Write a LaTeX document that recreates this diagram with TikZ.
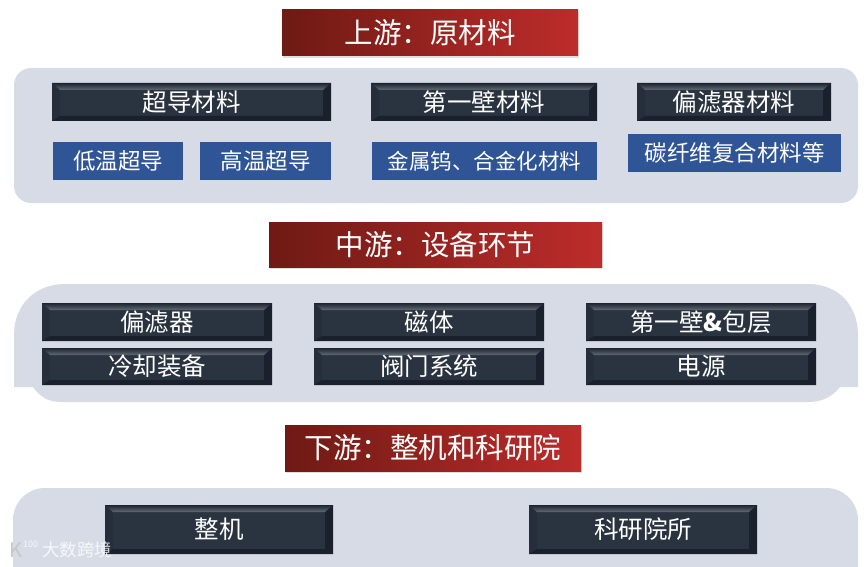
\documentclass[tikz,border=0pt]{standalone}
\usepackage{fontspec}
\setmainfont{Noto Sans CJK SC}
\usetikzlibrary{shadows,calc}
\definecolor{panelc}{HTML}{D6DBE6}
\definecolor{darkc}{HTML}{2A3340}
\definecolor{bevtop}{HTML}{626A74}
\definecolor{bevedge}{HTML}{1C2430}
\definecolor{bevbot}{HTML}{1A212C}
\definecolor{bevside}{HTML}{1A212C}
\definecolor{bluec}{HTML}{2F5597}
\definecolor{redl}{HTML}{6E1A14}
\definecolor{redr}{HTML}{BD2C2B}
\tikzset{
  panel/.style={fill=panelc,draw=none},
  darkbox/.style={inner sep=0pt,text=white,font=\fontsize{24.5}{26}\selectfont,
    path picture={
      \fill[darkc] (path picture bounding box.south west) rectangle (path picture bounding box.north east);
      \fill[bevside] (path picture bounding box.north east) -- (path picture bounding box.south east)
        -- ([shift={(-8pt,5pt)}]path picture bounding box.south east) -- ([shift={(-8pt,-7pt)}]path picture bounding box.north east) -- cycle;
      \fill[bevside!25!darkc] (path picture bounding box.north west) -- (path picture bounding box.south west)
        -- ([shift={(8pt,5pt)}]path picture bounding box.south west) -- ([shift={(8pt,-7pt)}]path picture bounding box.north west) -- cycle;
      \shade[top color=bevedge,bottom color=bevtop] (path picture bounding box.north west) -- (path picture bounding box.north east)
        -- ([shift={(-8pt,-7pt)}]path picture bounding box.north east) -- ([shift={(8pt,-7pt)}]path picture bounding box.north west) -- cycle;
      \fill[bevbot] (path picture bounding box.south west) -- (path picture bounding box.south east)
        -- ([shift={(-8pt,5pt)}]path picture bounding box.south east) -- ([shift={(8pt,5pt)}]path picture bounding box.south west) -- cycle;
    }},
  bluebox/.style={inner sep=0pt,fill=bluec,text=white,font=\fontsize{22.5}{24}\selectfont},
  redbox/.style={inner sep=0pt,text=white,left color=redl,right color=redr,font=\fontsize{28.5}{30}\selectfont,
    drop shadow={shadow xshift=1pt,shadow yshift=-2pt,opacity=.25}},
  wmark/.style={text=white,opacity=.8,inner sep=0pt}
}
\newcommand{\bx}[7]{\node[#1,minimum width=#5pt-#4pt,minimum height=#7pt-#6pt,anchor=center] (#2) at ({(#4+#5)/2},{(#6+#7)/2}) {#3};}
\begin{document}
\begin{tikzpicture}[x=1pt,y=-1pt]
\useasboundingbox (0,0) rectangle (865,567);
\fill[white] (0,0) rectangle (865,567);
% panels
\fill[panel,rounded corners=17pt] (14,68) rectangle (858,203);
\fill[panel] (14,387) -- (14,335) .. controls (14,305) and (35,284) .. (65,284) -- (808,284)
  .. controls (838,284) and (858,305) .. (858,335) -- (858,387) -- (840,387)
  .. controls (832,397) and (822,402) .. (808,402) -- (62,402)
  .. controls (48,402) and (40,397) .. (33,387) -- cycle;
\fill[panel,rounded corners=32pt] (13,488) rectangle (858,620);
% titles
\bx{redbox}{t1}{上游：原材料}{282}{578}{10}{56}
\bx{redbox}{t2}{中游：设备环节}{269}{602}{222}{267}
\bx{redbox}{t3}{下游：整机和科研院}{285}{581}{425}{471}
% row 1
\bx{darkbox}{a1}{超导材料}{52}{331}{83}{121}
\bx{darkbox}{a2}{第一壁材料}{371}{597}{83}{121}
\bx{darkbox}{a3}{偏滤器材料}{637}{831}{83}{121}
\bx{bluebox}{b1}{低温超导}{53}{183}{142}{180}
\bx{bluebox}{b2}{高温超导}{200}{331}{142}{180}
\bx{bluebox,font=\fontsize{21.5}{23}\selectfont}{b3}{金属钨、合金化材料}{372}{597}{142}{180}
\bx{bluebox}{b4}{碳纤维复合材料等}{628}{841}{134}{172}
% middle
\bx{darkbox}{c1}{偏滤器}{42}{272}{303}{341}
\bx{darkbox}{c2}{磁体}{314}{544}{303}{341}
\bx{darkbox}{c3}{第一壁\textbf{\&}包层}{586}{816}{303}{341}
\bx{darkbox}{d1}{冷却装备}{42}{272}{348}{385}
\bx{darkbox}{d2}{阀门系统}{314}{544}{348}{385}
\bx{darkbox}{d3}{电源}{586}{816}{348}{385}
% bottom
\bx{darkbox}{e1}{整机}{105}{333}{505}{554}
\bx{darkbox}{e2}{科研院所}{529}{757}{505}{554}
% watermark
\node[wmark,anchor=west,font=\fontsize{17.5}{19}\selectfont] (wm) at (42,550) {大数跨境};
\node[wmark,text=gray!45,opacity=1,anchor=west,font=\fontsize{20}{20}\selectfont] (wl) at (9,550) {K};
\node[wmark,anchor=west,font=\fontsize{9}{9}\selectfont] (wo) at (23,544) {100};
\end{tikzpicture}
\end{document}
